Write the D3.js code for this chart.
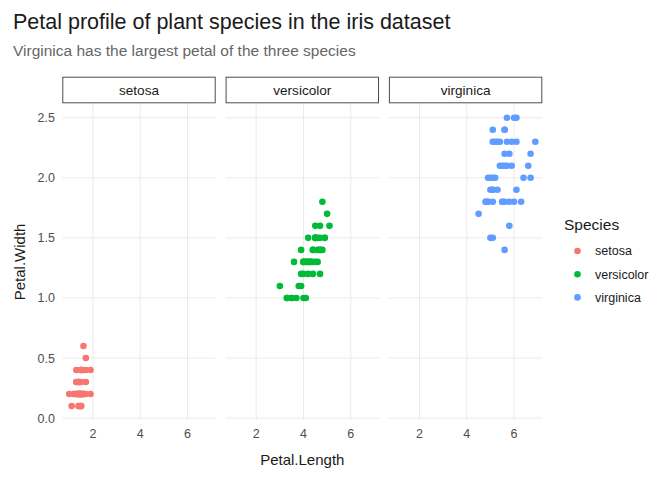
<!DOCTYPE html>
<html>
<head>
<meta charset="utf-8">
<script src="https://cdn.jsdelivr.net/npm/d3@7"></script>
<style>
  body { margin: 0; background: #fff; }
  svg { font-family: "Liberation Sans", Arial, sans-serif; }
</style>
</head>
<body>
<svg id="chart" width="672" height="480"></svg>
<script>
const species = ['setosa', 'versicolor', 'virginica']
const colors = ['#F8766D', '#00BA38', '#619CFF']

// petal length / width per species, in row order
const setosaLength = [1.4,1.4,1.3,1.5,1.4,1.7,1.4,1.5,1.4,1.5,1.5,1.6,1.4,1.1,1.2,1.5,1.3,1.4,1.7,1.5,1.7,1.5,1.0,1.7,1.9,1.6,1.6,1.5,1.4,1.6,1.6,1.5,1.5,1.4,1.5,1.2,1.3,1.4,1.3,1.5,1.3,1.3,1.3,1.6,1.9,1.4,1.6,1.4,1.5,1.4]
const setosaWidth = [0.2,0.2,0.2,0.2,0.2,0.4,0.3,0.2,0.2,0.1,0.2,0.2,0.1,0.1,0.2,0.4,0.4,0.3,0.3,0.3,0.2,0.4,0.2,0.5,0.2,0.2,0.4,0.2,0.2,0.2,0.2,0.4,0.1,0.2,0.2,0.2,0.2,0.1,0.2,0.2,0.3,0.3,0.2,0.6,0.4,0.3,0.2,0.2,0.2,0.2]
const versicolorLength = [4.7,4.5,4.9,4.0,4.6,4.5,4.7,3.3,4.6,3.9,3.5,4.2,4.0,4.7,3.6,4.4,4.5,4.1,4.5,3.9,4.8,4.0,4.9,4.7,4.3,4.4,4.8,5.0,4.5,3.5,3.8,3.7,3.9,5.1,4.5,4.5,4.7,4.4,4.1,4.0,4.4,4.6,4.0,3.3,4.2,4.2,4.2,4.3,3.0,4.1]
const versicolorWidth = [1.4,1.5,1.5,1.3,1.5,1.3,1.6,1.0,1.3,1.4,1.0,1.5,1.0,1.4,1.3,1.4,1.5,1.0,1.5,1.1,1.8,1.3,1.5,1.2,1.3,1.4,1.4,1.7,1.5,1.0,1.1,1.0,1.2,1.6,1.5,1.6,1.5,1.3,1.3,1.3,1.2,1.4,1.2,1.0,1.3,1.2,1.3,1.3,1.1,1.3]
const virginicaLength = [6.0,5.1,5.9,5.6,5.8,6.6,4.5,6.3,5.8,6.1,5.1,5.3,5.5,5.0,5.1,5.3,5.5,6.7,6.9,5.0,5.7,4.9,6.7,4.9,5.7,6.0,4.8,4.9,5.6,5.8,6.1,6.4,5.6,5.1,5.6,6.1,5.6,5.5,4.8,5.4,5.6,5.1,5.1,5.9,5.7,5.2,5.0,5.2,5.4,5.1]
const virginicaWidth = [2.5,1.9,2.1,1.8,2.2,2.1,1.7,1.8,1.8,2.5,2.0,1.9,2.1,2.0,2.4,2.3,1.8,2.2,2.3,1.5,2.3,2.0,2.0,1.8,2.1,1.8,1.8,1.8,2.1,1.6,1.9,2.0,2.2,1.5,1.4,2.3,2.4,1.8,1.8,2.1,2.4,2.3,1.9,2.3,2.5,2.3,1.9,2.0,2.3,1.8]

const xTicks = [2, 4, 6]
const yTicks = [0, 0.5, 1, 1.5, 2, 2.5]

const lengths = [setosaLength, versicolorLength, virginicaLength]
const widths = [setosaWidth, versicolorWidth, virginicaWidth]

const svg = d3.select('#chart')

// Layout

const panelW = 153.4
const gap = 9.9
const panelLeft = 62.3
const panelTop = 103.3
const panelBottom = 420.5
const stripH = 26.6

// Scales (ggplot style 5% expansion)

const allX = lengths.flat()
const allY = widths.flat()
const xPad = (d3.max(allX) - d3.min(allX)) * 0.05
const yPad = (d3.max(allY) - d3.min(allY)) * 0.05

const x = d3.scaleLinear()
    .domain([d3.min(allX) - xPad, d3.max(allX) + xPad])
    .range([0, panelW])

const y = d3.scaleLinear()
    .domain([d3.min(allY) - yPad, d3.max(allY) + yPad])
    .range([panelBottom, panelTop])

const color = d3.scaleOrdinal().domain(species).range(colors)

// Title

svg.append('text')
    .attr('x', 13).attr('y', 29)
    .attr('font-size', 21.5).attr('fill', '#1a1a1a')
    .text('Petal profile of plant species in the iris dataset')

svg.append('text')
    .attr('x', 13).attr('y', 56)
    .attr('font-size', 15.5).attr('fill', '#666666')
    .text('Virginica has the largest petal of the three species')

// Panels

species.forEach((sp, i) => {
    const px = panelLeft + i * (panelW + gap)
    const g = svg.append('g').attr('transform', `translate(${px},0)`)

    // grid
    g.selectAll('.vgrid').data(xTicks).join('line')
        .attr('x1', d => x(d)).attr('x2', d => x(d))
        .attr('y1', panelTop).attr('y2', panelBottom)
        .attr('stroke', '#ebebeb').attr('stroke-width', 1)

    g.selectAll('.hgrid').data(yTicks).join('line')
        .attr('x1', 0).attr('x2', panelW)
        .attr('y1', d => y(d)).attr('y2', d => y(d))
        .attr('stroke', '#ebebeb').attr('stroke-width', 1)

    // strip
    g.append('rect')
        .attr('x', 0.5).attr('y', panelTop - stripH + 0.5)
        .attr('width', panelW - 1).attr('height', stripH - 1)
        .attr('fill', '#fff').attr('stroke', '#4d4d4d').attr('stroke-width', 1)

    g.append('text')
        .attr('x', panelW / 2).attr('y', panelTop - stripH / 2 + 4.8)
        .attr('text-anchor', 'middle')
        .attr('font-size', 13.6).attr('fill', '#1a1a1a')
        .text(sp)

    // points
    const pts = lengths[i].map((l, j) => ({ l, w: widths[i][j] }))
    g.selectAll('circle').data(pts).join('circle')
        .attr('cx', d => x(d.l)).attr('cy', d => y(d.w))
        .attr('r', 3.3)
        .attr('fill', color(sp))

    // x tick labels
    g.selectAll('.xtick').data(xTicks).join('text')
        .attr('x', d => x(d)).attr('y', 438)
        .attr('text-anchor', 'middle')
        .attr('font-size', 12.5).attr('fill', '#4d4d4d')
        .text(d => d)
})

// y tick labels

svg.selectAll('.ytick').data(yTicks).join('text')
    .attr('x', 55).attr('y', d => y(d) + 4.5)
    .attr('text-anchor', 'end')
    .attr('font-size', 12.5).attr('fill', '#4d4d4d')
    .text(d => d3.format('.1f')(d))

// Axis titles

const plotRight = panelLeft + 3 * panelW + 2 * gap

svg.append('text')
    .attr('x', (panelLeft + plotRight) / 2).attr('y', 465)
    .attr('text-anchor', 'middle')
    .attr('font-size', 15).attr('fill', '#1a1a1a')
    .text('Petal.Length')

svg.append('text')
    .attr('transform', `translate(25,${(panelTop + panelBottom) / 2}) rotate(-90)`)
    .attr('text-anchor', 'middle')
    .attr('font-size', 15).attr('fill', '#1a1a1a')
    .text('Petal.Width')

// Legend

const legend = svg.append('g')

legend.append('text')
    .attr('x', 564).attr('y', 230)
    .attr('font-size', 15.5).attr('fill', '#1a1a1a')
    .text('Species')

species.forEach((sp, i) => {
    const ly = 251 + i * 23.2
    legend.append('circle')
        .attr('cx', 577.5).attr('cy', ly).attr('r', 3.3)
        .attr('fill', color(sp))
    legend.append('text')
        .attr('x', 595).attr('y', ly + 4.3)
        .attr('font-size', 12.5).attr('fill', '#1a1a1a')
        .text(sp)
})
</script>
</body>
</html>
